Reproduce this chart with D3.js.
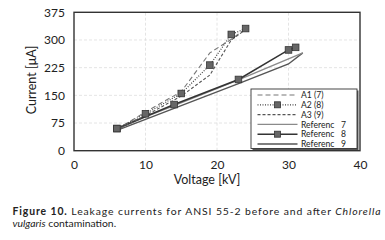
<!DOCTYPE html>
<html><head><meta charset="utf-8">
<script src="https://cdn.jsdelivr.net/npm/d3@7"></script>
<style>body{margin:0;background:#fff}svg{display:block}</style>
</head><body>
<script>
// Data
const a1X = [6, 10, 15, 19, 22, 24];
const a1Y = [58, 105, 160, 265, 302, 330];
const a2X = [6, 10, 15, 19, 22, 24];
const a2Y = [60, 100, 155, 232, 315, 331];
const a3X = [6, 10, 15, 19, 22, 24];
const a3Y = [57, 95, 148, 205, 300, 328];
const r7X = [6, 10, 14, 23, 32];
const r7Y = [58, 92, 122, 192, 265];
const r8X = [6, 14, 23, 30, 31];
const r8Y = [60, 125, 193, 273, 280];
const r9X = [6, 23, 30, 32];
const r9Y = [55, 182, 235, 265];
const xTicks = [0, 10, 20, 30, 40];
const yTicks = [0, 75, 150, 225, 300, 375];
const legendNames = ["A1 (7)", "A2 (8)", "A3 (9)", "Referenc", "Referenc", "Referenc"];
const legendNums = ["", "", "", "7", "8", "9"];

const W = 385, H = 240;
const svg = d3.select("body").append("svg").attr("width", W).attr("height", H);
const x = d3.scaleLinear().domain([0, 40]).range([74, 360]);
const y = d3.scaleLinear().domain([0, 375]).range([150.7, 12.3]);
const font = "Lato, 'Open Sans', sans-serif";

// grid
svg.append("g").selectAll("line").data(xTicks.slice(1, -1)).join("line")
  .attr("x1", d => x(d)).attr("x2", d => x(d)).attr("y1", y(0)).attr("y2", y(375))
  .attr("stroke", "#ddd").attr("stroke-dasharray", "3,2").attr("stroke-width", 0.8);
svg.append("g").selectAll("line").data(yTicks.slice(1, -1)).join("line")
  .attr("y1", d => y(d)).attr("y2", d => y(d)).attr("x1", x(0)).attr("x2", x(40))
  .attr("stroke", "#ddd").attr("stroke-dasharray", "3,2").attr("stroke-width", 0.8);

// axes
const xAxis = svg.append("g").attr("transform", `translate(0,${y(0)})`)
  .call(d3.axisBottom(x).tickValues(xTicks).tickSize(0).tickPadding(10));
const yAxis = svg.append("g").attr("transform", `translate(${x(0)},0)`)
  .call(d3.axisLeft(y).tickValues(yTicks).tickSize(0).tickPadding(9));
[xAxis, yAxis].forEach(g => {
  g.select(".domain").remove();
  g.selectAll("text").attr("font-family", font).attr("font-size", 12).attr("fill", "#222");
});

// frame
svg.append("rect").attr("x", x(0)).attr("y", y(375)).attr("width", x(40) - x(0)).attr("height", y(0) - y(375))
  .attr("fill", "none").attr("stroke", "#333").attr("stroke-width", 1.4);

const line = d3.line().x(d => x(d[0])).y(d => y(d[1]));
const zip = (xs, ys) => xs.map((v, i) => [v, ys[i]]);

const series = [
  {xs: r9X, ys: r9Y, stroke: "#555", w: 1.4, dash: null, marker: false},
  {xs: r7X, ys: r7Y, stroke: "#8a8a8a", w: 1.4, dash: null, marker: false},
  {xs: r8X, ys: r8Y, stroke: "#333", w: 1.5, dash: null, marker: true},
  {xs: a1X, ys: a1Y, stroke: "#777", w: 1.1, dash: "5,3", marker: false},
  {xs: a3X, ys: a3Y, stroke: "#555", w: 1.1, dash: "3,2", marker: false},
  {xs: a2X, ys: a2Y, stroke: "#444", w: 1.2, dash: "1,1.5", marker: true},
];
series.forEach(s => {
  const pts = zip(s.xs, s.ys);
  svg.append("path").attr("d", line(pts)).attr("fill", "none")
    .attr("stroke", s.stroke).attr("stroke-width", s.w)
    .attr("stroke-dasharray", s.dash);
  if (s.marker) {
    svg.append("g").selectAll("rect").data(pts).join("rect")
      .attr("x", d => x(d[0]) - 3.3).attr("y", d => y(d[1]) - 3.3)
      .attr("width", 6.6).attr("height", 6.6)
      .attr("fill", "#666").attr("stroke", "#333").attr("stroke-width", 0.8);
  }
});

// legend
const lg = svg.append("g");
lg.append("rect").attr("x", 252.5).attr("y", 90.5).attr("width", 106).attr("height", 59.5)
  .attr("fill", "#555");
lg.append("rect").attr("x", 251).attr("y", 89).attr("width", 106).attr("height", 59.5)
  .attr("fill", "#fff").attr("stroke", "#333").attr("stroke-width", 0.9);
const legStyles = [series[3], series[5], series[4], series[1], series[2], series[0]];
legendNames.forEach((n, i) => {
  const cy = 95 + i * 9.8;
  const s = legStyles[i];
  lg.append("line").attr("x1", 257.5).attr("x2", 297.5).attr("y1", cy).attr("y2", cy)
    .attr("stroke", s.stroke).attr("stroke-width", s.w).attr("stroke-dasharray", s.dash);
  if (s.marker) lg.append("rect").attr("x", 277.5 - 3).attr("y", cy - 3).attr("width", 6).attr("height", 6)
    .attr("fill", "#666").attr("stroke", "#333").attr("stroke-width", 0.8);
  lg.append("text").attr("x", 301).attr("y", cy + 3.2).text(n)
    .attr("font-family", font).attr("font-size", 8.6).attr("fill", "#222");
  if (legendNums[i]) lg.append("text").attr("x", 346).attr("y", cy + 3.2).text(legendNums[i])
    .attr("text-anchor", "end").attr("font-family", font).attr("font-size", 8.6).attr("fill", "#222");
});

// axis titles
svg.append("text").attr("x", 207).attr("y", 184).attr("text-anchor", "middle")
  .attr("font-family", font).attr("font-size", 12.5).attr("fill", "#222").text("Voltage [kV]");
svg.append("text").attr("transform", "translate(36,80) rotate(-90)").attr("text-anchor", "middle")
  .attr("font-family", font).attr("font-size", 12.5).attr("fill", "#222").text("Current [μA]");

// caption
const cap = svg.append("text").attr("x", 12.5).attr("y", 214.5).attr("font-family", font)
  .attr("font-size", 10.4).attr("fill", "#222").attr("textLength", 368).attr("lengthAdjust", "spacing");
cap.append("tspan").attr("font-weight", "bold").text("Figure 10.");
cap.append("tspan").text(" Leakage currents for ANSI 55-2 before and after ");
cap.append("tspan").attr("font-style", "italic").text("Chlorella");
const cap2 = svg.append("text").attr("x", 12.5).attr("y", 227).attr("font-family", font)
  .attr("font-size", 10.4).attr("fill", "#222");
cap2.append("tspan").attr("font-style", "italic").text("vulgaris");
cap2.append("tspan").text(" contamination.");
</script>
</body></html>
